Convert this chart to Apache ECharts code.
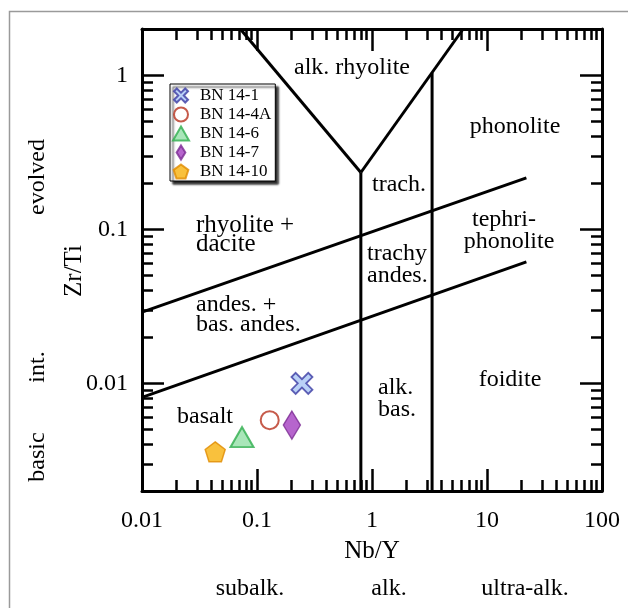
<!DOCTYPE html>
<html>
<head>
<meta charset="utf-8">
<script src="https://cdn.jsdelivr.net/npm/echarts@6/dist/echarts.min.js"></script>
<style>
  html, body { margin: 0; padding: 0; background: #fff; }
  #chart { width: 628px; height: 608px; }
</style>
</head>
<body>
<div id="chart"></div>
<script>
// Samples plotted on the Nb/Y vs Zr/Ti classification diagram
const samples = ['BN 14-1', 'BN 14-4A', 'BN 14-6', 'BN 14-7', 'BN 14-10'];
const nbY  = [0.246, 0.129, 0.0741, 0.201, 0.0433];
const zrTi = [0.0100, 0.00577, 0.00448, 0.00536, 0.00359];

// Axis ticks
const xMajorTicks = [0.01, 0.1, 1, 10, 100];
const xMinorTicks = [0.02, 0.03, 0.04, 0.05, 0.06, 0.07, 0.08, 0.09,
                     0.2, 0.3, 0.4, 0.5, 0.6, 0.7, 0.8, 0.9,
                     2, 3, 4, 5, 6, 7, 8, 9,
                     20, 30, 40, 50, 60, 70, 80, 90];
const yMajorTicks = [0.01, 0.1, 1];
const yMinorTicks = [0.002, 0.003, 0.004, 0.005, 0.006, 0.007, 0.008, 0.009,
                     0.02, 0.03, 0.04, 0.05, 0.06, 0.07, 0.08, 0.09,
                     0.2, 0.3, 0.4, 0.5, 0.6, 0.7, 0.8, 0.9];

// Field boundaries (Nb/Y, Zr/Ti)
const leftArm       = [[0.0716, 2], [0.80, 0.234]];
const rightArm      = [[0.80, 0.234], [6.2, 2]];
const alkBoundary   = [[0.80, 0.002], [0.80, 0.234]];
const ultraBoundary = [[3.33, 0.002], [3.33, 1.04]];
const upperDiag     = [[0.01, 0.029], [22, 0.216]];
const lowerDiag     = [[0.01, 0.0081], [22, 0.0615]];

const SERIF = '"Liberation Serif", "Times New Roman", serif';
const chart = echarts.init(document.getElementById('chart'), null, { renderer: 'canvas' });

const fmt = v => String(+(+v).toPrecision(6));

function xAxisDef(gridIndex, position, ticks, len, showLine, showLabel) {
  return {
    gridIndex, type: 'log', logBase: 10, min: 0.01, max: 100, position,
    axisLine: { show: showLine, onZero: false, lineStyle: { color: '#000', width: 3 } },
    axisTick: { show: true, inside: true, length: len, customValues: ticks,
                lineStyle: { color: '#000', width: 2.5 } },
    axisLabel: { show: showLabel, customValues: ticks, formatter: fmt, margin: 18,
                 color: '#000', fontFamily: SERIF, fontSize: 24 },
    splitLine: { show: false }, minorTick: { show: false }
  };
}
function yAxisDef(gridIndex, position, ticks, len, showLine, showLabel) {
  return {
    gridIndex, type: 'log', logBase: 10, min: 0.002, max: 2, position,
    axisLine: { show: showLine, onZero: false, lineStyle: { color: '#000', width: 3 } },
    axisTick: { show: true, inside: true, length: len, customValues: ticks,
                lineStyle: { color: '#000', width: 2.5 } },
    axisLabel: { show: showLabel, customValues: ticks, formatter: fmt, margin: 14,
                 color: '#000', fontFamily: SERIF, fontSize: 24 },
    splitLine: { show: false }, minorTick: { show: false }
  };
}

const xBottom = xAxisDef(0, 'bottom', xMajorTicks, 22, true, true);
xBottom.name = 'Nb/Y';
xBottom.nameLocation = 'middle';
xBottom.nameGap = 48;
xBottom.nameTextStyle = { color: '#000', fontFamily: SERIF, fontSize: 25 };

const boundaryStyle = { color: '#000', width: 3 };
function boundary(data) {
  return {
    type: 'line', xAxisIndex: 0, yAxisIndex: 0, data, showSymbol: false, symbol: 'none',
    lineStyle: boundaryStyle, silent: true, z: 2, animation: false
  };
}

const markerDefs = [
  { symbol: 'path://M2,0L5,3L8,0L10,2L7,5L10,8L8,10L5,7L2,10L0,8L3,5L0,2Z', size: 21,
    itemStyle: { color: '#a9c6f5', borderColor: '#3a3aa2', borderWidth: 1.8 } },
  { symbol: 'circle', size: 18,
    itemStyle: { color: '#ffffff', borderColor: '#b8321e', borderWidth: 2 } },
  { symbol: 'triangle', size: [23, 20],
    itemStyle: { color: '#93e0a8', borderColor: '#2fae4e', borderWidth: 2 } },
  { symbol: 'path://M5,0L10,8L5,16L0,8Z', size: [17, 28],
    itemStyle: { color: '#a43fc0', borderColor: '#7b2b92', borderWidth: 1.5 } },
  { symbol: 'path://M0.951,0L1.902,0.691L1.539,1.809L0.363,1.809L0,0.691Z', size: 20,
    itemStyle: { color: '#f7b20c', borderColor: '#e08b00', borderWidth: 1.5 } }
];

const sampleSeries = samples.map((name, i) => ({
  name, type: 'scatter', xAxisIndex: 0, yAxisIndex: 0,
  data: [[nbY[i], zrTi[i]]],
  symbol: markerDefs[i].symbol, symbolSize: markerDefs[i].size,
  itemStyle: markerDefs[i].itemStyle, z: 5, animation: false
}));

function txt(text, x, y, align, size, rotation) {
  return {
    type: 'text', x, y, rotation: rotation || 0,
    style: { text, fill: '#000', font: (size || 24) + 'px ' + SERIF,
             textAlign: align || 'center', textVerticalAlign: 'middle' },
    z: 10
  };
}

const fieldLabels = [
  txt('alk. rhyolite', 352, 68),
  txt('phonolite', 515, 127),
  txt('trach.', 399, 185),
  txt('rhyolite +', 196, 225, 'left', 25),
  txt('dacite', 196, 244, 'left', 25),
  txt('tephri-', 504, 220),
  txt('phonolite', 509, 242),
  txt('trachy', 367, 254, 'left'),
  txt('andes.', 367, 276, 'left'),
  txt('andes. +', 196, 305, 'left'),
  txt('bas. andes.', 196, 325, 'left'),
  txt('alk.', 378, 388, 'left'),
  txt('bas.', 378, 410, 'left'),
  txt('foidite', 510, 380),
  txt('basalt', 205, 417),
  txt('Zr/Ti', 74, 271, 'center', 25, Math.PI / 2),
  txt('evolved', 38, 177, 'center', 24, Math.PI / 2),
  txt('int.', 38, 367, 'center', 24, Math.PI / 2),
  txt('basic', 38, 457, 'center', 24, Math.PI / 2),
  txt('subalk.', 250, 589),
  txt('alk.', 389, 589),
  txt('ultra-alk.', 525, 589)
];

const option = {
  backgroundColor: '#fff',
  animation: false,
  grid: [
    { left: 142, top: 29, width: 460, height: 462, containLabel: false },
    { left: 142, top: 29, width: 460, height: 462, containLabel: false }
  ],
  xAxis: [
    xBottom,
    xAxisDef(0, 'top', xMajorTicks, 22, true, false),
    xAxisDef(1, 'bottom', xMinorTicks, 11, false, false),
    xAxisDef(1, 'top', xMinorTicks, 11, false, false)
  ],
  yAxis: [
    yAxisDef(0, 'left', yMajorTicks, 22, true, true),
    yAxisDef(0, 'right', yMajorTicks, 22, true, false),
    yAxisDef(1, 'left', yMinorTicks, 11, false, false),
    yAxisDef(1, 'right', yMinorTicks, 11, false, false)
  ],
  legend: {
    data: samples,
    orient: 'vertical', left: 170, top: 84,
    backgroundColor: '#fff', borderColor: '#000', borderWidth: 1,
    shadowColor: 'rgba(0,0,0,0.85)', shadowBlur: 2, shadowOffsetX: 3, shadowOffsetY: 3,
    padding: [3, 4, 1, 2], itemGap: 2, itemWidth: 16, itemHeight: 14,
    textStyle: { color: '#000', fontFamily: SERIF, fontSize: 17, padding: [0, 0, 0, 6] }
  },
  graphic: [
    { type: 'rect', shape: { x: 9.5, y: 11.5, width: 700, height: 700 },
      style: { fill: 'none', stroke: '#9a9a9a', lineWidth: 1.5 }, z: -1 },
    ...fieldLabels
  ],
  series: [
    boundary(leftArm), boundary(rightArm), boundary(alkBoundary),
    boundary(ultraBoundary), boundary(upperDiag), boundary(lowerDiag),
    ...sampleSeries
  ]
};

chart.setOption(option);
</script>
</body>
</html>
